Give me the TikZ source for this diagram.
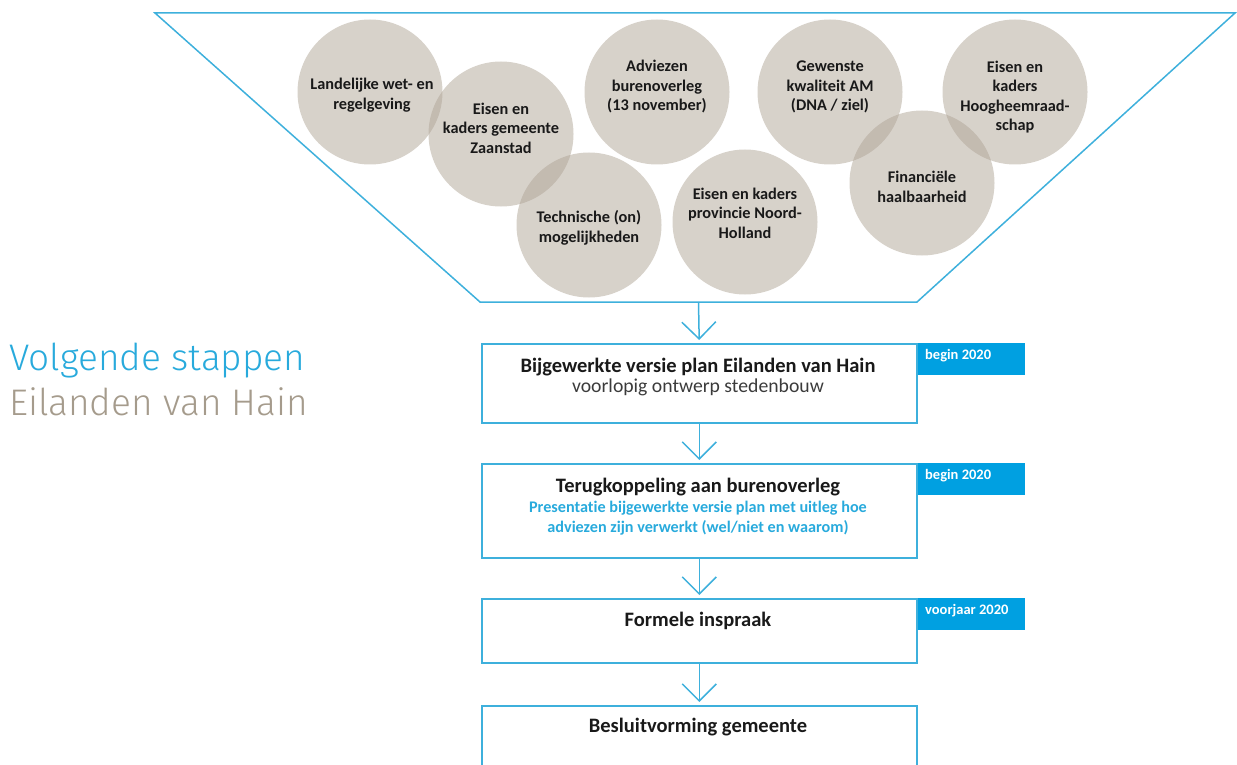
\documentclass[tikz,border=0pt]{standalone}
\usepackage{fontspec}
\setmainfont{Carlito}[Ligatures=NoCommon]
\newfontfamily\lightfont{Fira Sans Light}
\usetikzlibrary{arrows.meta}
\definecolor{lineblue}{RGB}{62,176,220}
\definecolor{tagblue}{RGB}{0,160,225}
\definecolor{titleblue}{RGB}{40,170,220}
\definecolor{titlegray}{RGB}{165,155,140}
\definecolor{bubblecol}{RGB}{175,165,150}
\definecolor{ink}{RGB}{25,25,25}
\begin{document}
\begin{tikzpicture}[x=1pt,y=-1pt,
  line/.style={draw=lineblue, line width=1.5pt},
  bubble/.style={circle, minimum size=145pt, inner sep=0pt, fill=bubblecol, fill opacity=0.5},
  btext/.style={font=\bfseries\fontsize{16.3}{19.5}\selectfont, align=center, text=ink},
  stepbox/.style={draw=lineblue, line width=1.5pt, minimum width=435pt, anchor=north west, inner sep=0pt},
  tag/.style={fill=tagblue, anchor=north west, minimum width=107pt, minimum height=32pt, inner sep=0pt},
  tagtext/.style={font=\bfseries\fontsize{14.5}{16}\selectfont, text=white, anchor=west, inner sep=0pt},
  boxtitle/.style={font=\bfseries\fontsize{20.5}{22}\selectfont, text=ink, inner sep=0pt},
  boxsub/.style={font=\fontsize{19.7}{22}\selectfont, text=ink!85, inner sep=0pt},
  bluesub/.style={font=\bfseries\fontsize{16.2}{19.5}\selectfont, text=titleblue, align=center, inner sep=0pt},
  flow/.style={line, -{Straight Barb[length=17pt,width=34pt]}, shorten >=3pt},
]
\clip (0,0) rectangle (1237,765);
\useasboundingbox (0,0) rectangle (1237,765);

% funnel
\coordinate (ftl) at (155,13);
\coordinate (ftr) at (1235,13);
\coordinate (fbr) at (917,302);
\coordinate (fbl) at (480,302);
\draw[line, line join=miter] (ftl) -- (ftr) -- (fbr) -- (fbl) -- cycle;

% bubbles
\node[bubble] (c1) at (370,92) {};
\node[bubble] (c2) at (501,134) {};
\node[bubble] (c3) at (589,225) {};
\node[bubble] (c4) at (657,92) {};
\node[bubble] (c5) at (745,222) {};
\node[bubble] (c6) at (830,92) {};
\node[bubble] (c7) at (922,183) {};
\node[bubble] (c8) at (1015,92) {};

\node[btext] (l1) at (372,95) {Landelijke wet- en\\regelgeving};
\node[btext] (l2) at (501,128) {Eisen en\\kaders gemeente\\Zaanstad};
\node[btext] (l3) at (589,228) {Technische (on)\\mogelijkheden};
\node[btext] (l4) at (657,87) {Adviezen\\burenoverleg\\(13 november)};
\node[btext] (l5) at (745,213) {Eisen en kaders\\provincie Noord-\\Holland};
\node[btext] (l6) at (830,87) {Gewenste\\kwaliteit AM\\(DNA / ziel)};
\node[btext] (l7) at (922,187) {Financiële\\haalbaarheid};
\node[btext] (l8) at (1015,97) {Eisen en\\kaders\\Hoogheemraad-\\schap};

% title
\node[anchor=base west, inner sep=0pt, font=\lightfont\fontsize{37}{40}\selectfont, text=titleblue] (tt1) at (9,370) {Volgende stappen};
\node[anchor=base west, inner sep=0pt, font=\lightfont\fontsize{37}{40}\selectfont, text=titlegray] (tt2) at (9,415) {Eilanden van Hain};

% boxes
\node[stepbox, minimum height=79pt] (b1) at (481,343) {};
\node[stepbox, minimum height=94pt] (b2) at (481,463) {};
\node[stepbox, minimum height=64pt] (b3) at (481,598) {};
\node[stepbox, minimum height=120pt] (b4) at (481,705) {};

% tags
\node[tag] (g1) at ([xshift=0.75pt]b1.north east) {};
\node[tag] (g2) at ([xshift=0.75pt]b2.north east) {};
\node[tag] (g3) at ([xshift=0.75pt]b3.north east) {};
\node[tagtext] (gt1) at (925,356) {begin 2020};
\node[tagtext] (gt2) at (925,476) {begin 2020};
\node[tagtext] (gt3) at (925,611) {voorjaar 2020};

% box texts
\node[boxtitle] (t1) at (698,367) {Bijgewerkte versie plan Eilanden van Hain};
\node[boxsub] (s1) at (698,387) {voorlopig ontwerp stedenbouw};
\node[boxtitle] (t2) at (698,487) {Terugkoppeling aan burenoverleg};
\node[bluesub] (s2) at (698,518) {Presentatie bijgewerkte versie plan met uitleg hoe\\adviezen zijn verwerkt (wel/niet en waarom)};
\node[boxtitle] (t3) at (698,621) {Formele inspraak};
\node[boxtitle] (t4) at (698,727) {Besluitvorming gemeente};

% connectors
\coordinate (fstem) at (698.5,302);
\draw[flow] (fstem) -- (b1.north);
\draw[flow] (b1.south) -- (b2.north);
\draw[flow] (b2.south) -- (b3.north);
\draw[flow] (b3.south) -- (b4.north);
\end{tikzpicture}
\end{document}
